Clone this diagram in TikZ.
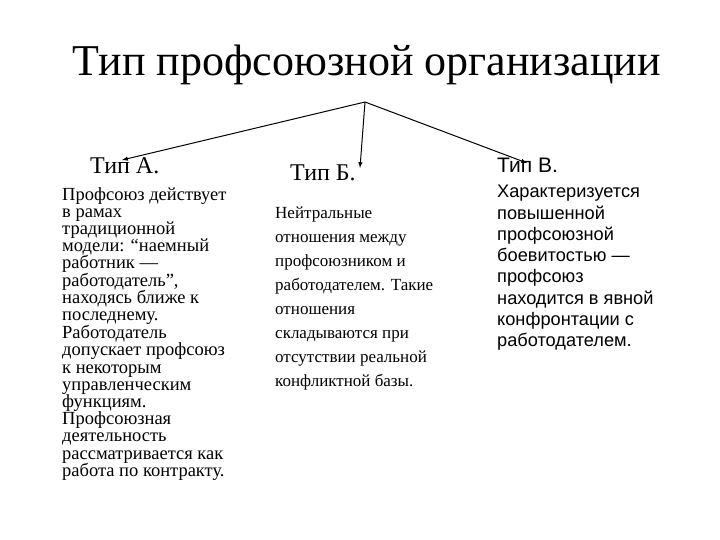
\documentclass[tikz,border=0pt]{standalone}
\usepackage{fontspec}
\setmainfont{Liberation Serif}
\newfontfamily\sansf{Liberation Sans}
\begin{document}
\begin{tikzpicture}[x=1pt,y=-1pt,
  col/.style={anchor=north west,align=left,inner sep=0pt},
  arr/.style={-latex,line width=1pt}]
\useasboundingbox (0,0) rectangle (720,540);
\node[inner sep=0pt,font=\fontsize{44}{48}\selectfont] (title) at (367,65) {Тип профсоюзной организации};
\coordinate (apex) at (365,102);
\coordinate (ea) at (122,160);
\coordinate (eb) at (360,168);
\coordinate (ec) at (527,163);
\draw[arr] (apex) -- (ea);
\draw[arr] (apex) -- (eb);
\draw[arr] (apex) -- (ec);
\node[col,font=\fontsize{24}{26}\selectfont] (ta) at (90,157) {Тип А.};
\node[col,font=\fontsize{24}{26}\selectfont] (tb) at (290,165) {Тип Б.};
\node[col,font=\sansf\fontsize{21}{24}\selectfont] (tc) at (497,158) {Тип В.};
\node[col,font=\fontsize{18.5}{17.2}\selectfont] (a) at (62,187) {Профсоюз действует\\в рамах\\традиционной\\модели: “наемный\\работник —\\работодатель”,\\находясь ближе к\\последнему.\\Работодатель\\допускает профсоюз\\к некоторым\\управленческим\\функциям.\\Профсоюзная\\деятельность\\рассматривается как\\работа по контракту.};
\node[col,font=\fontsize{17}{24}\selectfont] (b) at (275,207) {Нейтральные\\отношения между\\профсоюзником и\\работодателем. Такие\\отношения\\складываются при\\отсутствии реальной\\конфликтной базы.};
\node[col,font=\sansf\fontsize{18.2}{21.3}\selectfont] (c) at (497,185) {Характеризуется\\повышенной\\профсоюзной\\боевитостью —\\профсоюз\\находится в явной\\конфронтации с\\работодателем.};
\end{tikzpicture}
\end{document}
